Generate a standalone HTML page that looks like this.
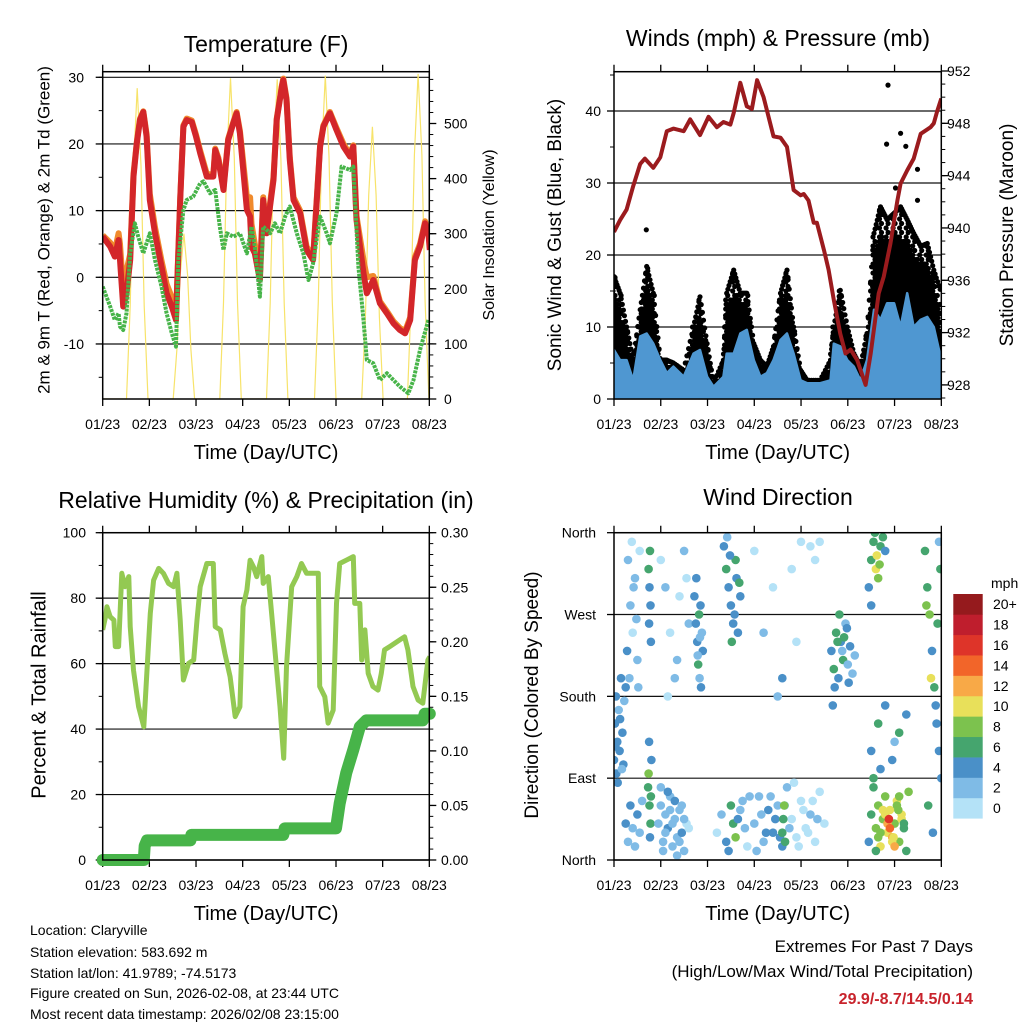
<!DOCTYPE html>
<html><head><meta charset="utf-8">
<style>
html,body{margin:0;padding:0;background:#fff;}
svg{display:block;font-family:"Liberation Sans",Arial,sans-serif;}
</style></head>
<body>
<svg id="root" width="1024" height="1024" viewBox="0 0 1024 1024" xmlns="http://www.w3.org/2000/svg">
<defs>
<clipPath id="c1"><rect x="102.7" y="71.7" width="326.6" height="327.3"/></clipPath>
<clipPath id="c2"><rect x="614" y="71.7" width="327.3" height="327.3"/></clipPath>
<clipPath id="c3"><rect x="102.7" y="532.7" width="326.6" height="327.3"/></clipPath>
<clipPath id="c4"><rect x="614" y="532.7" width="327.3" height="327.3"/></clipPath>
</defs>
<g id="g1"></g>
<g id="g2"></g>
<g id="g3"></g>
<g id="g4"></g>
<g font-size="14" fill="#000">
<text x="30" y="935">Location: Claryville</text>
<text x="30" y="957">Station elevation: 583.692 m</text>
<text x="30" y="978">Station lat/lon: 41.9789; -74.5173</text>
<text x="30" y="998">Figure created on Sun, 2026-02-08, at 23:44 UTC</text>
<text x="30" y="1019">Most recent data timestamp: 2026/02/08 23:15:00</text>
</g>
<g text-anchor="end">
<text x="973" y="952" font-size="17">Extremes For Past 7 Days</text>
<text x="973" y="977" font-size="17">(High/Low/Max Wind/Total Precipitation)</text>
<text x="973" y="1004" font-size="16" font-weight="bold" fill="#c8232c">29.9/-8.7/14.5/0.14</text>
</g>
</svg>
<script>
// ---------- DATA ----------
const dayTicks = ["01/23","02/23","03/23","04/23","05/23","06/23","07/23","08/23"];
const tempT = [0,0.16,0.26,0.34,0.37,0.44,0.51,0.59,0.66,0.73,0.8,0.87,0.94,1.01,1.12,1.26,1.37,1.48,1.57,1.66,1.73,1.8,1.91,2.0,2.09,2.23,2.37,2.41,2.48,2.59,2.69,2.8,2.87,2.94,3.09,3.16,3.19,3.26,3.37,3.44,3.51,3.66,3.73,3.84,3.87,3.94,4.01,4.09,4.23,4.37,4.51,4.66,4.73,4.87,5.01,5.16,5.3,5.37,5.44,5.59,5.66,5.8,5.94,6.09,6.23,6.37,6.48,6.59,6.69,6.8,6.91,6.98,7.01];
const temp2m = [6.1,4.6,3.1,5.6,2.6,-4.4,-2.4,2.6,15.1,20.1,23.6,24.8,21.1,11.6,6.6,1.6,-2.4,-4.4,-6.4,11.6,22.6,23.6,23.3,21.1,18.6,15.1,15.1,19.1,17.6,13.1,20.6,23.1,24.6,21.6,10.1,9.1,4.6,3.6,-0.4,11.6,6.6,14.6,23.6,28.6,29.6,26.6,17.6,11.6,9.6,4.1,2.6,19.6,22.6,24.6,22.1,19.6,18.1,19.6,8.6,0.6,-2.4,-0.4,-3.9,-5.4,-6.9,-7.9,-8.4,-6.4,2.6,4.6,8.1,6.6,4.1];
const temp9m = [6.3,5.2,4.0,6.6,5.0,-2.0,1.0,3.5,15.5,20.3,23.8,24.9,21.5,12.5,7.5,2.5,-1.0,-3.0,-5.8,11.8,22.8,23.8,23.5,21.4,19.0,15.5,15.4,19.3,17.9,13.5,20.8,23.3,24.8,22.0,12.0,12.0,8.0,5.0,0.5,12.0,7.2,15.0,23.8,28.8,29.8,26.9,18.0,12.0,10.0,4.6,3.0,19.8,22.8,24.8,22.4,20.0,18.4,19.8,9.2,2.6,0.0,0.2,-3.6,-5.1,-6.6,-7.6,-8.1,-6.0,3.0,5.0,8.4,7.0,4.5];
const dewT = [0,0.16,0.26,0.34,0.37,0.44,0.51,0.59,0.69,0.76,0.87,1.01,1.12,1.26,1.37,1.48,1.57,1.62,1.73,1.8,1.94,2.09,2.16,2.3,2.41,2.51,2.59,2.66,2.8,2.94,3.09,3.19,3.26,3.37,3.44,3.59,3.69,3.8,3.91,4.01,4.16,4.3,4.41,4.51,4.66,4.8,4.87,5.01,5.12,5.3,5.37,5.48,5.59,5.66,5.8,5.94,6.09,6.23,6.37,6.55,6.66,6.8,6.98];
const dewV = [-1.4,-4.4,-6.4,-5.4,-7.4,-7.9,-5.4,3.6,8.1,6.1,3.6,6.6,2.6,-1.4,-5.4,-8.4,-10.4,2.6,10.1,11.6,12.1,14.1,14.4,12.6,13.1,7.6,4.1,6.6,6.1,6.6,3.6,7.6,4.6,-2.9,7.6,6.6,8.1,6.6,9.1,10.6,6.6,3.6,-0.4,2.1,9.1,6.6,5.1,9.6,16.6,16.1,16.6,1.6,-6.4,-12.4,-12.9,-15.4,-14.4,-15.4,-16.4,-17.4,-15.4,-10.9,-6.4];
const solarT = [0,0.51,0.59,0.66,0.74,0.82,0.89,0.97,1.51,1.59,1.66,1.74,1.82,1.89,1.97,2.51,2.59,2.66,2.74,2.82,2.89,2.97,3.51,3.59,3.66,3.74,3.82,3.89,3.97,4.54,4.62,4.69,4.77,4.85,4.92,5.0,5.55,5.63,5.7,5.78,5.86,5.93,6.01,6.53,6.61,6.68,6.76,6.84,6.91,6.99,7.01];
const solarV = [0,0,169,423,564,423,169,0,0,90,225,300,225,90,0,0,175,437,582,437,175,0,0,174,435,580,435,174,0,0,176,440,587,440,176,0,0,148,370,494,370,148,0,0,177,443,590,443,177,0,0];
const tempTicks = [-10,0,10,20,30];
const solarTicks = [0,100,200,300,400,500];
const windT = [0,0.13,0.27,0.41,0.56,0.7,0.84,0.99,1.13,1.27,1.49,1.7,1.84,1.99,2.13,2.34,2.41,2.56,2.7,2.84,2.99,3.13,3.27,3.41,3.56,3.7,3.84,3.99,4.13,4.41,4.63,4.7,4.84,4.99,5.13,5.27,5.41,5.56,5.7,5.84,5.99,6.13,6.27,6.41,6.56,6.7,6.84,7.0];
const windHi = [6.8,5.4,5.4,2.6,8.7,9.1,7.7,5.4,3.6,4.5,3.1,6.3,6.8,3.1,1.7,3.1,6.3,6.3,9.1,9.6,5.4,3.1,3.6,5.4,8.2,9.1,6.3,2.6,2.2,2.2,2.6,7.7,7.3,5.4,4.5,2.6,5.4,12.4,11.0,13.3,13.3,10.0,14.7,10.0,11.0,11.4,10.0,5.4];
const gustV = [17.0,14.7,10.0,5.4,12.4,18.4,14.7,5.4,5.4,5.0,4.0,10.0,14.2,7.7,2.2,5.4,14.7,17.9,14.7,14.7,7.7,5.4,4.5,7.3,14.7,17.9,10.0,4.0,2.6,2.6,5.4,10.0,15.1,10.0,6.3,4.5,9.1,23.0,26.7,24.9,25.8,26.7,24.9,23.0,21.2,21.6,17.9,14.7];
const gustOutT = [0.69,5.86,5.83,6.13,6.24,6.49,6.02,6.49];
const gustOutV = [23.5,43.6,35.4,36.9,35.1,31.9,29.3,27.6];
const presT = [0,0.13,0.27,0.41,0.56,0.66,0.84,0.99,1.13,1.27,1.49,1.63,1.84,2.02,2.2,2.34,2.49,2.56,2.7,2.84,2.95,3.06,3.2,3.41,3.56,3.7,3.84,3.99,4.06,4.16,4.27,4.34,4.49,4.59,4.7,4.84,4.95,5.06,5.2,5.38,5.49,5.66,5.77,5.91,6.06,6.13,6.27,6.41,6.56,6.77,6.84,6.91,7.0];
const presV = [939.7,940.6,941.4,943.2,944.9,945.3,944.6,945.4,947.4,947.6,947.4,948.3,947.1,948.5,947.7,948.1,947.9,948.8,951.1,949.3,949.1,951.3,950.0,947.0,946.9,946.2,942.9,942.5,942.6,942.1,940.4,940.4,938.3,936.8,934.5,931.9,930.4,930.7,929.9,928.0,930.4,935.0,936.3,938.8,942.1,943.4,944.4,945.3,947.2,947.7,948.0,948.9,949.9];
const windTicks = [0,10,20,30,40];
const presTicks = [928,932,936,940,944,948,952];
const rhT = [0,0.06,0.09,0.16,0.24,0.27,0.34,0.41,0.48,0.56,0.59,0.66,0.77,0.88,0.95,1.02,1.09,1.2,1.3,1.41,1.52,1.59,1.66,1.73,1.84,1.95,2.02,2.09,2.23,2.37,2.41,2.52,2.62,2.73,2.84,2.94,3.01,3.09,3.16,3.23,3.3,3.41,3.44,3.55,3.62,3.73,3.8,3.88,3.94,4.05,4.16,4.26,4.37,4.51,4.62,4.65,4.76,4.83,4.94,5.01,5.08,5.22,5.37,5.4,5.51,5.55,5.62,5.69,5.79,5.9,5.97,6.04,6.15,6.36,6.47,6.54,6.65,6.76,6.86,6.97,7.01];
const rhV = [70.3,74.3,77.4,74.3,73.3,65.2,65.2,87.6,83.5,86.6,71.3,58.0,46.8,40.7,58.0,75.4,85.5,89.1,87.6,84.5,83.5,87.6,73.3,55.0,60.1,61.1,73.3,83.5,90.6,90.6,71.3,70.3,63.1,56.0,43.8,46.8,77.4,82.5,91.6,89.6,86.6,92.7,84.5,86.6,75.4,58.0,46.8,31.1,59.1,83.5,86.6,90.6,87.6,87.6,87.6,53.0,49.9,41.8,45.8,78.4,90.6,91.6,92.7,78.4,78.4,61.1,70.3,57.0,53.0,51.9,57.0,64.2,65.2,67.2,68.2,64.2,53.0,48.9,47.9,61.1,62.1];
const prT = [0,0.88,0.9,0.95,1.88,1.9,3.87,3.9,5.0,5.08,5.22,5.37,5.51,5.65,6.86,6.9,7.01];
const prV = [0,0,0.013,0.018,0.018,0.023,0.023,0.029,0.029,0.052,0.08,0.101,0.122,0.128,0.128,0.134,0.134];
const rhTicks = [0,20,40,60,80,100];
const prTicks = ["0.00","0.05","0.10","0.15","0.20","0.25","0.30"];
const dirObs = [[0,110,4],[.02,150,4],[.04,180,5],[.05,95,4],[.07,130,4],[.1,165,3],[.12,120,4],[.15,200,4],[.18,140,4],[.2,105,5],[.22,175,3],[.25,190,4],[.08,85,4],[.03,125,5],[.13,155,4],[.17,100,3],
[.3,330,3],[.35,280,2],[.4,250,1],[.45,310,3],[.5,220,2],[.55,340,1],[.28,230,4],[.42,300,3],[.33,200,2],[.48,265,3],[.38,350,1],[.52,190,3],
[.25,40,4],[.3,20,3],[.35,60,4],[.4,35,2],[.45,15,3],[.5,50,4],[.55,30,3],[.6,65,2],
[.74,320,6],[.76,300,5],[.78,280,4],[.75,260,4],[.77,340,6],[.79,240,4],[.73,80,7],[.76,60,7],[.78,40,6],[.8,110,5],[.75,130,4],[.77,25,5],[.74,95,8],[.79,70,6],
[.95,40,2],[1,60,3],[1.05,20,3],[1.1,50,2],[1.15,35,4],[1.2,70,3],[1.25,15,2],[1.3,45,3],[1.35,25,2],[1.4,55,3],[1.45,30,4],[1.5,10,2],[1.55,40,1],[1,80,3],[1.1,30,2],[1.2,55,3],[1.3,65,4],[1.4,20,3],[1.5,45,2],[1.6,35,1],[1.05,10,3],[1.15,75,4],[1.25,40,2],[1.35,5,3],[1.45,60,3],
[1,330,1],[1.1,300,2],[1.2,250,1],[1.3,200,2],[1.4,290,1],[1.5,340,2],[1.6,260,3],[1.15,180,1],[1.35,220,2],[1.55,310,1],
[1.72,290,4],[1.75,260,5],[1.78,240,4],[1.8,215,6],[1.83,200,3],[1.85,280,4],[1.88,250,3],[1.9,230,5],[1.76,310,4],[1.82,270,6],[1.86,190,4],[1.79,225,3],[1.84,245,2],
[2.35,345,4],[2.4,320,6],[2.45,300,4],[2.5,280,5],[2.55,260,4],[2.6,330,6],[2.65,250,4],[2.7,290,5],[2.42,355,3],[2.52,240,6],[2.62,310,4],[2.58,270,5],[2.48,335,4],[2.68,305,6],
[2.2,30,1],[2.3,50,2],[2.4,20,4],[2.5,60,7],[2.55,40,6],[2.6,25,8],[2.7,55,3],[2.8,35,2],[2.85,15,1],[2.9,70,2],[2.45,10,4],[2.65,45,5],[2.75,65,3],
[3.0,40,2],[3.1,70,3],[3.2,20,3],[3.3,55,4],[3.4,30,4],[3.5,60,3],[3.6,15,4],[3.7,80,2],[3.8,45,1],[3.9,25,1],[4.0,65,0],[4.1,35,1],[4.2,50,2],[4.3,20,1],[4.4,75,0],[4.5,40,1],[3.05,10,2],[3.15,50,3],[3.25,30,4],[3.35,70,3],[3.45,45,4],[3.55,25,5],[3.65,60,3],[3.75,35,2],[3.85,85,1],[3.95,15,0],[4.05,55,1],[4.15,30,1],[4.25,65,0],[4.35,45,2],[3.6,30,7],[3.62,45,6],[3.64,60,8],[3.66,20,7],
[3,340,1],[3.2,250,2],[3.4,300,1],[3.6,200,4],[3.8,320,1],[4,350,0],[4.2,345,1],[4.4,350,0],[3.5,180,3],[3.9,240,1],[4.3,330,0],
[4.65,230,4],[4.7,210,6],[4.75,250,7],[4.8,200,5],[4.85,240,4],[4.9,220,6],[4.95,260,3],[5.0,215,2],[5.05,235,4],[5.1,205,2],[5.15,225,3],[4.72,190,4],[4.82,270,6],[4.92,245,7],[5.02,195,5],[4.68,170,4],[4.78,240,6],[4.88,230,3],[4.98,255,4],
[5.45,300,5],[5.5,330,7],[5.55,350,6],[5.6,320,10],[5.65,310,9],[5.7,345,7],[5.75,355,6],[5.5,280,4],[5.62,335,11],[5.68,325,8],[5.8,340,5],[5.58,360,7],
[5.45,20,5],[5.5,50,7],[5.55,80,6],[5.6,35,8],[5.65,60,9],[5.7,15,10],[5.75,45,8],[5.8,70,9],[5.85,30,11],[5.9,55,10],[5.95,25,12],[6.0,40,9],[6.05,65,10],[6.1,20,8],[6.15,50,11],[6.2,35,7],[6.25,10,6],[6.3,75,8],[5.55,90,6],[5.65,25,9],[5.75,55,10],[5.85,40,12],[5.95,20,11],[6.05,60,9],[6.15,45,10],[5.7,30,8],[5.8,50,10],[5.9,35,14],[6.0,15,12],[6.1,70,9],[5.6,10,6],[5.88,45,16],[5.98,25,10],[6.08,55,8],[6.2,40,7],
[5.5,120,4],[5.65,150,6],[5.8,170,5],[5.95,110,4],[6.1,140,7],[6.25,160,4],[5.7,100,5],[6,130,3],
[6.65,340,6],[6.7,300,7],[6.75,270,8],[6.8,230,5],[6.85,190,6],[6.9,150,4],[6.95,120,5],[7.0,90,4],[6.72,60,6],[6.82,30,5],[6.92,260,7],[6.98,320,6],[6.78,200,10],[6.88,170,4],[6.68,280,9],[6.95,350,3]];
const dirTicks = ["North","East","South","West","North"];
const speedColors = ["#b4e2f7","#7fbbe6","#4a90c8","#45a56e","#7cc24e","#e8e05a","#f8a947","#f26529","#de3429","#bf1e2d","#951a1d"];
const speedLabels = ["0","2","4","6","8","10","12","14","16","18","20+"];

// ---------- HELPERS ----------
const NS="http://www.w3.org/2000/svg";
function mk(parent,tag,attrs,text){const e=document.createElementNS(NS,tag);for(const k in attrs)e.setAttribute(k,attrs[k]);if(text!==undefined)e.textContent=text;parent.appendChild(e);return e;}
function pathOf(ts,vs,fx,fy){let d="";for(let i=0;i<ts.length;i++)d+=(i?"L":"M")+fx(ts[i]).toFixed(1)+","+fy(vs[i]).toFixed(1);return d;}

function frame(g,x0,x1,y0,y1,xf,title,tx,ty){
  const t=mk(g,"text",{x:tx,y:ty,"font-size":"23","text-anchor":"middle"},title);
  
  
  dayTicks.forEach((lab,i)=>{
    const x=xf(i);
    const tk=mk(g,"path",{d:`M${x},${y1}V${y1+7}M${x},${y0}V${y0-7}`,stroke:"#000","stroke-width":"1.3"});
    
    
    const tl=mk(g,"text",{x:x,y:y1+30,"font-size":"14","text-anchor":"middle"},lab);
    
    
  });
  const xt=mk(g,"text",{x:(x0+x1)/2,y:y1+60,"font-size":"20","text-anchor":"middle"},"Time (Day/UTC)");
  
  
}
function border(g,x0,x1,y0,y1){
  const b=mk(g,"rect",{x:x0,y:y0,width:x1-x0,height:y1-y0,fill:"none",stroke:"#000","stroke-width":"1.5"});
  
  
}
function yTicksLeft(g,x0,x1,vals,labels,yf,minor,grid,lx){
  minor.forEach(v=>{const m=mk(g,"line",{x1:x0-4,x2:x0,y1:yf(v),y2:yf(v),stroke:"#000","stroke-width":"1"});
    
    });
  vals.forEach((v,i)=>{const y=yf(v);
    const tk=mk(g,"line",{x1:x0-7,x2:x0,y1:y,y2:y,stroke:"#000","stroke-width":"1.3"});
    
    
    if(grid){const gl=mk(g,"line",{x1:x0,x2:x1,y1:y,y2:y,stroke:"#111","stroke-width":"1.2"});
      
      }
    const tl=mk(g,"text",{x:lx,y:y+5,"font-size":"14","text-anchor":"end"},labels[i]);
    
    });
}
function yTicksRight(g,x1,vals,labels,yf,minor,lx){
  minor.forEach(v=>{const m=mk(g,"line",{x1:x1,x2:x1+4,y1:yf(v),y2:yf(v),stroke:"#000","stroke-width":"1"});
    
    });
  vals.forEach((v,i)=>{const y=yf(v);
    const tk=mk(g,"line",{x1:x1,x2:x1+7,y1:y,y2:y,stroke:"#000","stroke-width":"1.3"});
    
    
    const tl=mk(g,"text",{x:lx,y:y+5,"font-size":"14"},labels[i]);
    
    });
}
function vTitle(g,x,y,size,txt,name){
  const t=mk(g,"text",{x:x,y:y,"font-size":size,"text-anchor":"middle",transform:`rotate(-90 ${x} ${y})`,"dominant-baseline":"middle"},txt);
  
  
}
function range(a,b,s){const r=[];for(let v=a;v<=b+1e-9;v+=s)r.push(+v.toFixed(4));return r;}

// ---------- PANEL 1 ----------
(function(){
  const g=document.getElementById("g1");
  const X=t=>102.7+t*46.66, YT=v=>277.3-v*6.667, YS=v=>399-v*0.551;
  frame(g,102.7,429.3,71.7,399,X,"Temperature (F)",266,52);
  yTicksLeft(g,102.7,429.3,tempTicks,tempTicks.map(String),YT,range(-15,30,5),true,84);
  yTicksRight(g,429.3,solarTicks,solarTicks.map(String),YS,range(0,580,20),444);
  const c=mk(g,"g",{"clip-path":"url(#c1)"});
  const s=mk(c,"path",{d:pathOf(solarT,solarV,X,YS),fill:"none",stroke:"#f7e36a","stroke-width":"1.2"});
  
  
  const o=mk(c,"path",{d:pathOf(tempT,temp9m,X,YT),fill:"none",stroke:"#f08a2c","stroke-width":"6","stroke-linejoin":"round"});
  
  
  const r=mk(c,"path",{d:pathOf(tempT,temp2m,X,YT),fill:"none",stroke:"#d3262a","stroke-width":"6","stroke-linejoin":"round"});
  
  
  const d=mk(c,"path",{d:pathOf(dewT,dewV,X,YT),fill:"none",stroke:"#47b449","stroke-width":"4","stroke-linejoin":"round","stroke-dasharray":"3 1"});
  
  
  border(g,102.7,429.3,71.7,399);
  vTitle(g,45,230,"17","2m & 9m T (Red, Orange) & 2m Td (Green)","y-axis-title-left");
  vTitle(g,490,235,"16","Solar Insolation (Yellow)","y-axis-title-right");
})();

// ---------- PANEL 2 ----------
(function(){
  const g=document.getElementById("g2");
  const X=t=>614+t*46.76, YW=v=>399-v*7.2, YP=p=>71+(952-p)*13.08;
  frame(g,614,941.3,71.7,399,X,"Winds (mph) & Pressure (mb)",778,46);
  yTicksLeft(g,614,941.3,windTicks,windTicks.map(String),YW,range(0,45,5),true,601);
  yTicksRight(g,941.3,presTicks,presTicks.map(String),YP,range(927,952,1),947);
  const c=mk(g,"g",{"clip-path":"url(#c2)"});
  let dd="";const r=2.6;
  function dot(x,y){dd+=`M${(x-r).toFixed(1)},${y.toFixed(1)}a${r},${r} 0 1,0 ${2*r},0a${r},${r} 0 1,0 ${-2*r},0`;}
  for(let i=0;i<windT.length-1;i++){
    for(let k=0;k<6;k++){
      const f=k/6, t=windT[i]+(windT[i+1]-windT[i])*f;
      const hi=gustV[i]+(gustV[i+1]-gustV[i])*f, mid=windHi[i]+(windHi[i+1]-windHi[i])*f;
      const yl=YW(0), yh=YW(hi), ym=YW(mid), x=X(t);
      for(let y=yl;y>=yh;y-=4.5){
        if(y<ym){const fr=(ym-y)/Math.max(1,ym-yh); if(fr>0.4&&k%2)continue; if(fr>0.75&&k%3)continue;}
        dot(x+((Math.round(y)%3)-1),y);
      }
      dot(x,yh);
    }
  }
  gustOutT.forEach((t,i)=>dot(X(t),YW(gustOutV[i])));
  const gp=mk(c,"path",{d:dd,fill:"#000"});
  
  
  let bd="";for(let i=0;i<windT.length;i++)bd+=(i?"L":"M")+X(windT[i]).toFixed(1)+","+YW(windHi[i]).toFixed(1);
  bd+="L"+X(windT[windT.length-1]).toFixed(1)+","+YW(0)+"L"+X(0)+","+YW(0)+"Z";
  const b=mk(c,"path",{d:bd,fill:"#4f97d1",stroke:"#4f97d1","stroke-width":"2.5","stroke-linejoin":"round"});
  
  
  const p=mk(c,"path",{d:pathOf(presT,presV,X,YP),fill:"none",stroke:"#9b1b1e","stroke-width":"4","stroke-linejoin":"round"});
  
  
  border(g,614,941.3,71.7,399);
  vTitle(g,556,235,"19","Sonic Wind & Gust (Blue, Black)","y-axis-title-left");
  vTitle(g,1008,235,"19","Station Pressure (Maroon)","y-axis-title-right");
})();

// ---------- PANEL 3 ----------
(function(){
  const g=document.getElementById("g3");
  const X=t=>102.7+t*46.66, YR=v=>860-v*3.273, YPr=v=>860-v*1091;
  frame(g,102.7,429.3,532.7,860,X,"Relative Humidity (%) & Precipitation (in)",266,508);
  yTicksLeft(g,102.7,429.3,rhTicks,rhTicks.map(String),YR,range(0,100,10),true,86);
  yTicksRight(g,429.3,prTicks.map(Number),prTicks,YPr,range(0,0.3,0.01),441);
  const c=mk(g,"g",{"clip-path":"url(#c3)"});
  const rh=mk(c,"path",{d:pathOf(rhT,rhV,X,YR),fill:"none",stroke:"#93c952","stroke-width":"5","stroke-linejoin":"round"});
  
  
  const pr=mk(g,"path",{d:pathOf(prT,prV,X,YPr),fill:"none",stroke:"#47b449","stroke-width":"12","stroke-linejoin":"round","stroke-linecap":"round"});
  
  
  border(g,102.7,429.3,532.7,860);
  vTitle(g,40,695,"20","Percent & Total Rainfall","y-axis-title-left");
})();

// ---------- PANEL 4 ----------
(function(){
  const g=document.getElementById("g4");
  const X=t=>614+t*46.76, YD=d=>860-d*(327.3/360);
  frame(g,614,941.3,532.7,860,X,"Wind Direction",778,505);
  yTicksLeft(g,614,941.3,[0,90,180,270,360],dirTicks,YD,[],true,596);
  const c=mk(g,"g",{"clip-path":"url(#c4)"});
  dirObs.forEach(o=>{
    const ci=Math.min(10,Math.floor(o[2]/2));
    const e=mk(c,"circle",{cx:X(o[0]).toFixed(1),cy:YD(o[1]).toFixed(1),r:"4.3",fill:speedColors[ci]});
    
    
  });
  border(g,614,941.3,532.7,860);
  vTitle(g,533,695,"19","Direction (Colored By Speed)","y-axis-title-left");
  const lg=mk(g,"g",{});
  
  
  const mph=mk(lg,"text",{x:991,y:588,"font-size":"14"},"mph");
  
  
  const bh=(818.3-594)/11;
  for(let i=0;i<11;i++){
    const y=594+(10-i)*bh;
    const rct=mk(lg,"rect",{x:953.3,y:y.toFixed(2),width:29.4,height:(bh+0.3).toFixed(2),fill:speedColors[i]});
    
    
    const tl=mk(lg,"text",{x:993,y:(y+bh/2+5).toFixed(1),"font-size":"14"},speedLabels[i]);
    
    
  }
})();
</script>
</body></html>
